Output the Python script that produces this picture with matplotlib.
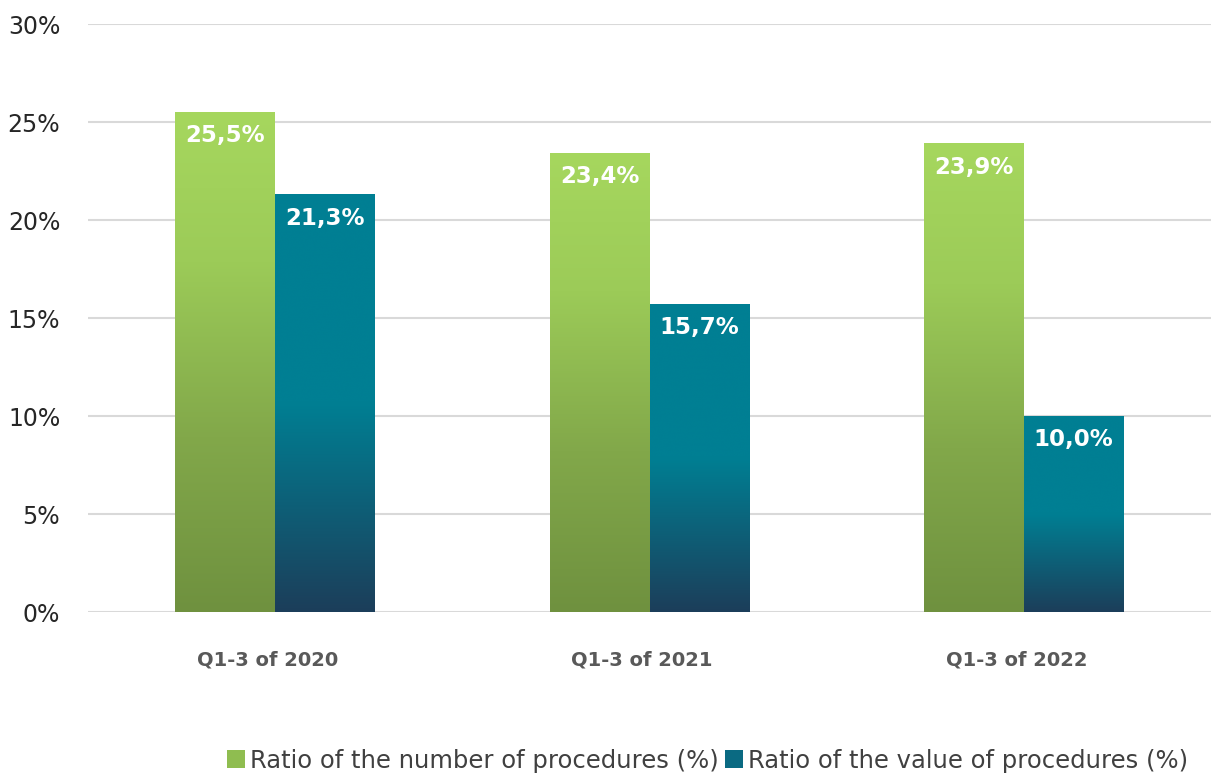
import numpy as np
import matplotlib
matplotlib.use("Agg")
import matplotlib.pyplot as plt
from matplotlib.colors import LinearSegmentedColormap
from matplotlib.patches import Patch

categories = ["Q1-3 of 2020", "Q1-3 of 2021", "Q1-3 of 2022"]
number_ratio = [25.5, 23.4, 23.9]
value_ratio = [21.3, 15.7, 10.0]
series_names = ["Ratio of the number of procedures (%)",
                "Ratio of the value of procedures (%)"]
yticks = [0, 5, 10, 15, 20, 25, 30]

green_cmap = LinearSegmentedColormap.from_list(
    "green", [(0.0, "#6f913f"), (0.35, "#82a84a"), (0.7, "#9ccb58"), (1.0, "#a6d75e")])
teal_cmap = LinearSegmentedColormap.from_list(
    "teal", [(0.0, "#1c3e5a"), (0.5, "#007f93"), (1.0, "#007f93")])

fig = plt.figure(figsize=(12.11, 7.76), dpi=100)
ax = fig.add_axes([88 / 1211, 164 / 776, 1 - 88 / 1211, 588 / 776])

x = np.arange(len(categories))
width = 100 / 375

bars_num = ax.bar(x - width / 2, number_ratio, width, color="none", zorder=3)
bars_val = ax.bar(x + width / 2, value_ratio, width, color="none", zorder=3)

grad = np.linspace(1, 0, 256).reshape(-1, 1)
for bars, cmap in [(bars_num, green_cmap), (bars_val, teal_cmap)]:
    for b in bars:
        x0, w, h = b.get_x(), b.get_width(), b.get_height()
        ax.imshow(grad, cmap=cmap, vmin=0, vmax=1, aspect="auto",
                  extent=[x0, x0 + w, 0, h], zorder=3, interpolation="bicubic")
    for b in bars:
        ax.annotate(f"{b.get_height():.1f}%".replace(".", ","),
                    (b.get_x() + b.get_width() / 2, b.get_height()),
                    xytext=(0, -17), textcoords="offset points",
                    ha="center", va="center", color="white",
                    fontsize=16.5, fontweight="bold", family="DejaVu Sans", zorder=4)

ax.set_xlim(-0.5, 2.5)
ax.set_ylim(0, 30)
ax.set_yticks(yticks)
ax.set_yticklabels([f"{t}%" for t in yticks], fontsize=17, color="#262626",
                   family="DejaVu Sans")
# labels sit slightly left of the group centre in the original
ax.set_xticks(x - 0.02)
ax.set_xticklabels(categories, fontsize=14, color="#595959", fontweight="bold",
                   family="DejaVu Sans")
ax.tick_params(axis="y", length=0, pad=20)
ax.tick_params(axis="x", length=0, pad=28)
ax.yaxis.grid(True, color="#d9d9d9", linewidth=1.5, zorder=0)
ax.set_axisbelow(True)
for spine in ax.spines.values():
    spine.set_visible(False)

handles = [Patch(facecolor="#8fbd50"), Patch(facecolor="#0a6a82")]
fig.legend(handles, series_names, loc="lower right", bbox_to_anchor=(0.999, -0.024),
           ncol=2, frameon=False, handlelength=0.75, handleheight=0.75,
           handletextpad=0.2, columnspacing=0.25,
           prop={"family": "DejaVu Sans", "size": 17.5},
           labelcolor="#404040")

fig.savefig("out.png", dpi=100)
